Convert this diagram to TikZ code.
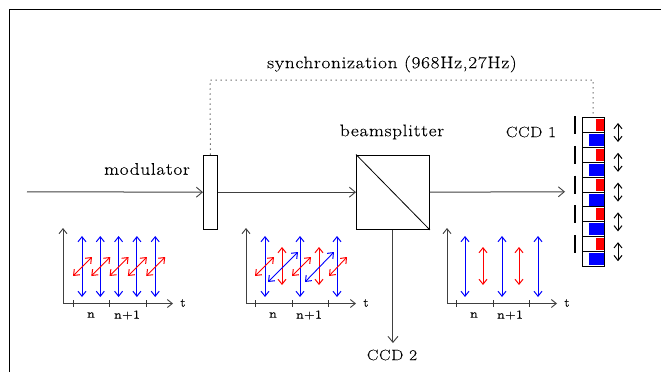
\documentclass[tikz,border=0pt]{standalone}
\usepackage{fontspec}
\setmainfont{Latin Modern Roman}[LetterSpace=4,FakeStretch=1.15,FakeBold=0.25]
\usetikzlibrary{arrows.meta}
\definecolor{myblue}{RGB}{0,0,255}
\definecolor{myred}{RGB}{255,0,0}
\tikzset{
  x=1pt,y=-1pt,
  beam/.style={line width=1pt,draw=black!75,-{Straight Barb[length=6pt,width=10pt,line width=0.9pt]}},
  axis/.style={line width=1pt,draw=black!75,-{Straight Barb[length=5pt,width=8pt,line width=0.9pt]}},
  dbl/.style={line width=0.9pt,{Straight Barb[length=5pt,width=8pt,line width=1pt]}-{Straight Barb[length=5pt,width=8pt,line width=1pt]}},
  bluearrow/.style={dbl,draw=myblue},
  redarrow/.style={dbl,draw=myred},
  blackarrow/.style={dbl,draw=black},
  opticbox/.style={draw=black,line width=0.9pt,fill=white,inner sep=0pt,anchor=north west},
  cell/.style={draw=black,line width=0.9pt,inner sep=0pt,anchor=north west,minimum width=22pt,minimum height=14.9pt},
  bigl/.style={font=\fontsize{16.8}{18}\selectfont,inner sep=0pt},
  capl/.style={font=\fontsize{15}{16}\selectfont,inner sep=0pt},
  smalll/.style={font=\fontsize{12}{14}\selectfont,inner sep=0pt},
  tick/.style={line width=0.9pt,draw=black!80},
  sync/.style={dash pattern=on 1pt off 4pt,line width=1pt,draw=black!85},
}
\begin{document}
\begin{tikzpicture}
\useasboundingbox (0,0) rectangle (661,372);
% frame
\draw[line width=0.8pt] (9,372) -- (9,9.5) -- (661,9.5);
% optics
\node[opticbox,minimum width=14pt,minimum height=74.5pt] (mod) at (203,154.5) {};
\node[opticbox,minimum width=73pt,minimum height=74.5pt] (bs) at (356,154.5) {};
\draw[line width=0.8pt] (bs.north west) -- (bs.south east);
\coordinate (in) at (27,191.75);
\coordinate (out) at (565,191.75);
\coordinate (ccdtwo) at (bs.south |- 0,343);
\draw[beam] (in) -- (mod.west);
\draw[beam] (mod.east) -- (bs.west);
\draw[beam] (bs.east) -- (out);
\draw[beam] (bs.south) -- (ccdtwo);
% labels
\node[bigl] (lmod) at (147,169) {modulator};
\node[bigl] (lbs) at (392,132) {beamsplitter};
\node[capl] (lccd) at (531,132) {CCD 1};
\node[capl] (lccdb) at (392,355) {CCD 2};
\node[bigl] (lsync) at (392,64) {synchronization (968Hz,27Hz)};
% CCD
\foreach \i in {0,...,4}{
  \pgfmathsetmacro\ya{117+29.8*\i}
  \pgfmathsetmacro\yb{\ya+14.9}
  \node[cell] (r\i) at (582,\ya) {};
  \node[cell] (b\i) at (582,\yb) {};
  \fill[myred] (596,\ya+2) rectangle (604,\ya+14);
  \fill[myblue] (589,\yb+2) rectangle (604,\yb+14);
  \draw[line width=1.2pt] (575,\ya-1) -- (575,\ya+17);
  \draw[blackarrow] (618,\ya+6) -- (618,\ya+25);
}
\draw[sync] (mod.north) -- (210,80) -- (593,80) -- (593,117);
% panels
\foreach \ox/\ta/\tb/\tc/\xe/\tl/\nx/\nnx in {63/73/109/146/173/183/91/127,246/255/292/328/356/366/273/309,447/456/493/529/557/567/474/510}{
  \draw[axis] (\ox,303.5) -- (\ox,228);
  \draw[axis] (\ox,303.5) -- (\xe,303.5);
  \foreach \t in {\ta,\tb,\tc}{\draw[tick] (\t,300) -- (\t,307);}
  \node[smalll] at (\tl,303) {t};
  \node[smalll] at (\nx,315) {n};
  \node[smalll] at (\nnx,315) {n+1};
}
% panel 1
\foreach \k in {0,...,4}{
  \pgfmathsetmacro\bx{82+18.3*\k}
  \draw[bluearrow] (\bx,236) -- (\bx,297);
  \pgfmathsetmacro\ra{73+18.3*\k}
  \pgfmathsetmacro\rb{92+18.3*\k}
  \draw[redarrow] (\ra,276) -- (\rb,257);
}
% panel 2
\foreach \x in {265,300,337}{\draw[bluearrow] (\x,236) -- (\x,297);}
\foreach \x in {282,319}{\draw[redarrow] (\x,247) -- (\x,285);}
\foreach \a/\b in {255/274,292/311,329/347}{\draw[redarrow] (\a,276) -- (\b,257);}
\foreach \a/\b in {268/298,305/334}{\draw[bluearrow] (\a,282) -- (\b,252);}
% panel 3
\foreach \x in {465,502,538}{\draw[bluearrow] (\x,236) -- (\x,297);}
\foreach \x in {483,519}{\draw[redarrow] (\x,247) -- (\x,285);}
\end{tikzpicture}
\end{document}
